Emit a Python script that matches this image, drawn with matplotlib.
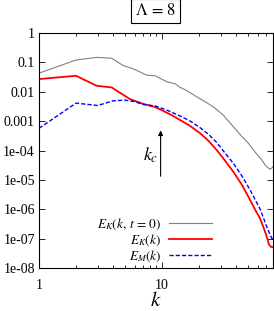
import matplotlib
matplotlib.use("Agg")
import matplotlib.pyplot as plt
from matplotlib.ticker import LogLocator, NullFormatter, FixedLocator

plt.rcParams['font.family'] = ['Liberation Serif', 'DejaVu Serif']
plt.rcParams['mathtext.fontset'] = 'stix'

k_init = [1, 2, 2.94, 3.9, 4.84, 5.85, 7.5, 8.8, 10.9, 12.8, 14, 15.9, 19.1, 22, 26.1, 31.5,
          38, 44, 50.3, 57, 64.7, 70, 75.5, 78, 80]
E_init = [0.043, 0.12, 0.148, 0.138, 0.078, 0.06, 0.037, 0.035, 0.022, 0.0186, 0.0142, 0.011,
          0.0068, 0.0048, 0.0031, 0.0016, 6.5e-4, 3.2e-4, 1.8e-4, 9e-5, 4.8e-5, 3e-5, 2.3e-5,
          2.5e-5, 2.8e-5]

k_K = [1, 2, 2.94, 3.9, 5.5, 7, 8.8, 10.3, 12, 14, 17, 20.4, 24, 27.8, 32, 38, 45, 52, 57,
       62.6, 67, 71, 74, 77, 80]
E_K = [0.027, 0.035, 0.016, 0.014, 0.0056, 0.0039, 0.003, 0.0022, 0.0016, 0.0011, 6.8e-4,
       3.9e-4, 2.1e-4, 1.05e-4, 5e-5, 1.9e-5, 6.5e-6, 2.1e-6, 1e-6, 5e-7, 2.4e-7, 1.2e-7,
       6.5e-8, 5.2e-8, 5.2e-8]

k_M = [1, 2, 3, 4, 5, 6, 7, 8.8, 10.9, 14, 17, 20.4, 24, 27.8, 32, 38, 45, 52, 57, 62.6, 67,
       71, 75, 78, 80]
E_M = [5.7e-4, 0.0041, 0.0034, 0.0049, 0.0052, 0.0046, 0.0037, 0.0033, 0.0024, 0.0015, 0.001,
       6e-4, 3.5e-4, 1.9e-4, 9e-5, 3.7e-5, 1.3e-5, 4.6e-6, 2.2e-6, 1.05e-6, 5e-7, 2.6e-7,
       1.5e-7, 1.05e-7, 9.5e-8]

y_ticks = [1, 0.1, 0.01, 0.001, 1e-4, 1e-5, 1e-6, 1e-7, 1e-8]
y_labels = ['1', '0.1', '0.01', '0.001', '1e-04', '1e-05', '1e-06', '1e-07', '1e-08']
x_ticks = [1, 10]
x_labels = ['1', '10']

fig = plt.figure(figsize=(2.74, 3.11), dpi=100)
ax = fig.add_axes([39/274, 1 - 268/311, (273-39)/274, (268-33)/311])

ax.plot(k_init, E_init, color='#808080', lw=0.8, label=r'$E_K(k,\, t\, =\, 0)$')
ax.plot(k_K, E_K, color='#ff0000', lw=1.3, label=r'$E_K(k)$')
ax.plot(k_M, E_M, color='#0000ff', lw=1.0, ls=(0, (3, 1.5)), label=r'$E_M(k)$')

ax.set_xscale('log')
ax.set_yscale('log')
ax.set_xlim(1, 80)
ax.set_ylim(1e-8, 1)
ax.yaxis.set_major_locator(FixedLocator(y_ticks))
ax.set_yticklabels(y_labels)
ax.xaxis.set_major_locator(FixedLocator(x_ticks))
ax.set_xticklabels(x_labels)
ax.xaxis.set_minor_locator(LogLocator(base=10, subs=range(2, 10)))
ax.xaxis.set_minor_formatter(NullFormatter())
ax.yaxis.set_minor_locator(LogLocator(base=10, subs=range(2, 10)))
ax.yaxis.set_minor_formatter(NullFormatter())
ax.tick_params(which='both', direction='in', top=True, right=True, labelsize=10, width=0.6)
ax.tick_params(which='major', length=4, pad=3)
ax.tick_params(which='minor', length=2)
ax.tick_params(axis='x', which='major', pad=8)
for s in ax.spines.values():
    s.set_linewidth(0.8)

ax.set_xlabel(r'$k$', fontsize=15, labelpad=0)

ax.annotate('', xy=(9.75, 6e-4), xytext=(9.75, 1.07e-5),
            arrowprops=dict(arrowstyle='-|>', color='black', lw=0.8, mutation_scale=7))
ax.text(8.1, 7e-5, r'$k_c$', fontsize=13, ha='center', va='center')

leg = ax.legend(loc='lower right', bbox_to_anchor=(0.76, -0.004), frameon=False, fontsize=9.5,
                markerfirst=False, handlelength=3.2, labelspacing=0.02, handletextpad=0.6,
                borderaxespad=0)
for t in leg.get_texts():
    t.set_ha('right')

fig.text(155.5/274, 1 - 11/311, r'$\Lambda\,=\,8$', fontsize=12, ha='center', va='center',
         bbox=dict(boxstyle='square,pad=0.25', fc='white', ec='black', lw=0.8))

fig.savefig('out.png', dpi=100)
